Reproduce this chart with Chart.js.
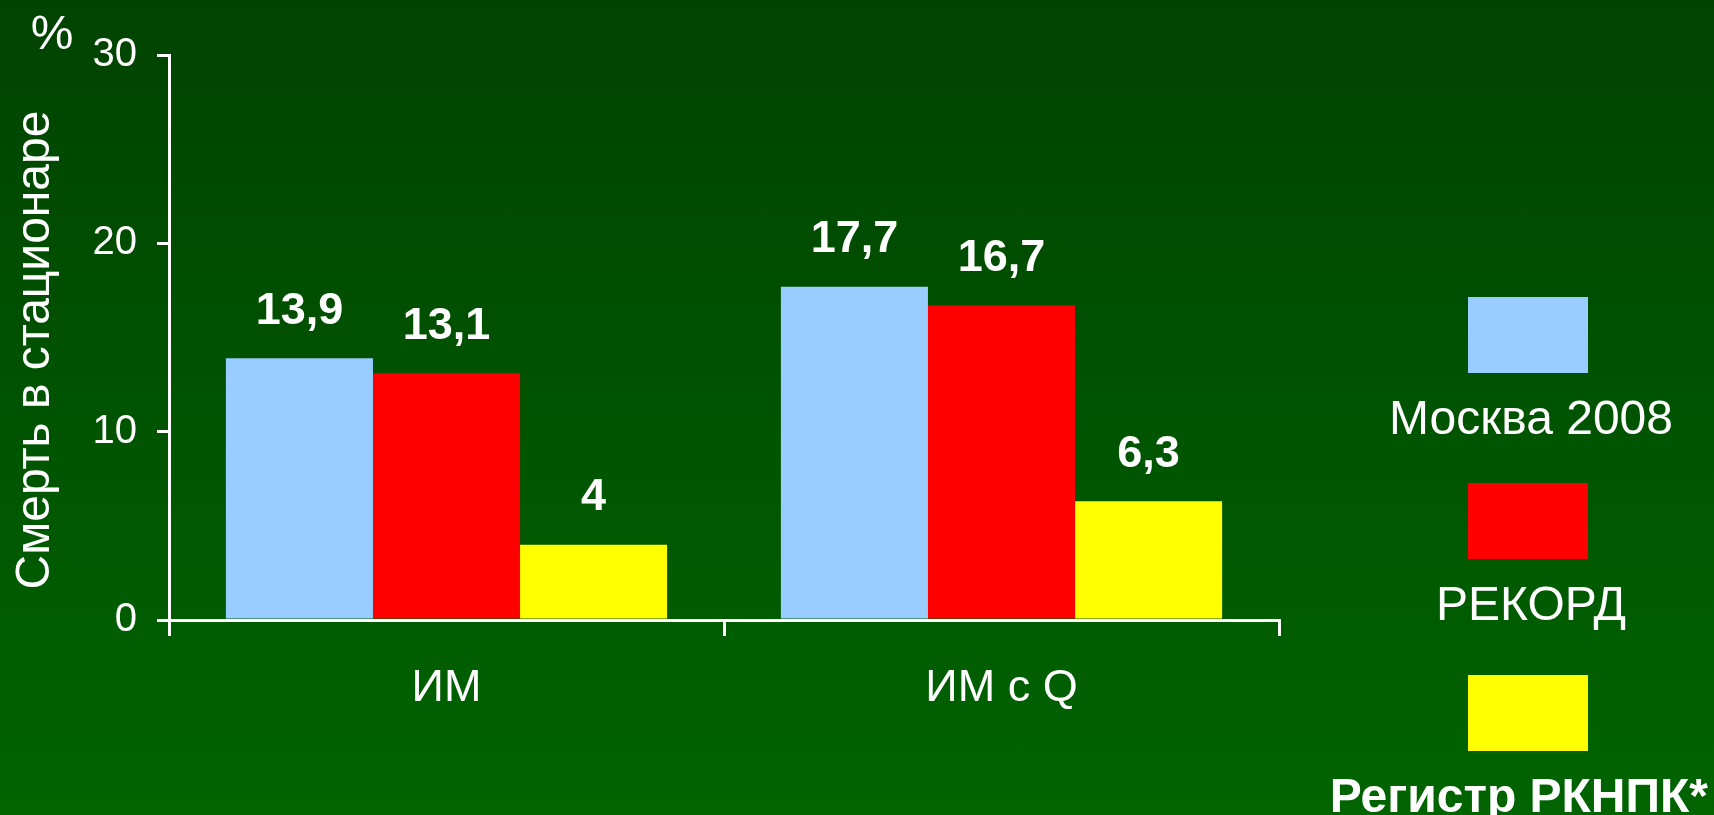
<!DOCTYPE html>
<html>
<head>
<meta charset="utf-8">
<script src="https://cdn.jsdelivr.net/npm/chart.js@4/dist/chart.umd.min.js"></script>
<style>
  html, body { margin: 0; padding: 0; overflow: hidden; }
  body { background: linear-gradient(#004300, #006400); }
  canvas { display: block; }
</style>
</head>
<body>
<canvas id="deathChart" width="1714" height="815"></canvas>
<script>
const categories = ['ИМ', 'ИМ с Q'];
const seriesNames = ['Москва 2008', 'РЕКОРД', 'Регистр РКНПК*'];
const moscow2008 = [13.9, 17.7];
const rekord = [13.1, 16.7];
const rknpk = [4, 6.3];
const yTicks = [0, 10, 20, 30];
const yTitle = 'Смерть в стационаре';

const colors = {
  blue: '#99ccff',
  red: '#ff0000',
  yellow: '#ffff00',
  text: '#ffffff'
};
const fontFamily = '"Liberation Sans", Arial, sans-serif';

// value labels above each bar, comma as decimal separator
const valueLabels = {
  id: 'valueLabels',
  afterDatasetsDraw(chart) {
    const ctx = chart.ctx;
    ctx.save();
    ctx.fillStyle = colors.text;
    ctx.font = 'bold 45px ' + fontFamily;
    ctx.textAlign = 'center';
    ctx.textBaseline = 'middle';
    chart.data.datasets.forEach((ds, i) => {
      chart.getDatasetMeta(i).data.forEach((bar, j) => {
        const txt = String(ds.data[j]).replace('.', ',');
        ctx.fillText(txt, bar.x, bar.y - 47);
      });
    });
    ctx.restore();
  }
};

// legend on the right (swatch with the name underneath), axis title and unit mark
const sideLegend = {
  id: 'sideLegend',
  afterDraw(chart) {
    const ctx = chart.ctx;
    const cx = 1528;
    const tops = [297, 483, 675];
    ctx.save();
    ctx.textAlign = 'center';
    ctx.textBaseline = 'middle';
    chart.data.datasets.forEach((ds, i) => {
      ctx.fillStyle = ds.backgroundColor;
      ctx.fillRect(cx - 60, tops[i], 120, 76);
      ctx.fillStyle = colors.text;
      ctx.font = (i === 2 ? 'bold 48px ' : '48px ') + fontFamily;
      const w = ctx.measureText(ds.label).width;
      const tx = Math.min(cx + 3, 1708 - w / 2);
      ctx.fillText(ds.label, tx, tops[i] + 124);
    });

    ctx.font = '48px ' + fontFamily;
    ctx.fillText('%', 52, 36);

    ctx.translate(36, 350);
    ctx.rotate(-Math.PI / 2);
    ctx.fillText(yTitle, 0, 0);
    ctx.restore();
  }
};

new Chart(document.getElementById('deathChart'), {
  type: 'bar',
  data: {
    labels: categories,
    datasets: [
      { label: seriesNames[0], data: moscow2008, backgroundColor: colors.blue },
      { label: seriesNames[1], data: rekord, backgroundColor: colors.red },
      { label: seriesNames[2], data: rknpk, backgroundColor: colors.yellow }
    ]
  },
  options: {
    responsive: false,
    animation: false,
    categoryPercentage: 0.795,
    barPercentage: 1.0,
    layout: { padding: { top: 55, right: 435, bottom: 0, left: 0 } },
    plugins: {
      legend: { display: false },
      tooltip: { enabled: false }
    },
    scales: {
      x: {
        afterFit(scale) { scale.height = 195; },
        grid: {
          drawOnChartArea: false,
          color: colors.text,
          lineWidth: 3,
          tickLength: 16
        },
        border: { color: colors.text, width: 3 },
        ticks: {
          color: colors.text,
          padding: 26,
          font: { family: fontFamily, size: 45 }
        }
      },
      y: {
        min: 0,
        max: 30,
        afterFit(scale) { scale.width = 169; },
        afterBuildTicks(scale) { scale.ticks = yTicks.map(v => ({ value: v })); },
        grid: {
          drawOnChartArea: false,
          color: colors.text,
          lineWidth: 3,
          tickLength: 12
        },
        border: { color: colors.text, width: 3 },
        ticks: {
          color: colors.text,
          padding: 20,
          font: { family: fontFamily, size: 40 }
        }
      }
    }
  },
  plugins: [valueLabels, sideLegend]
});
</script>
</body>
</html>
